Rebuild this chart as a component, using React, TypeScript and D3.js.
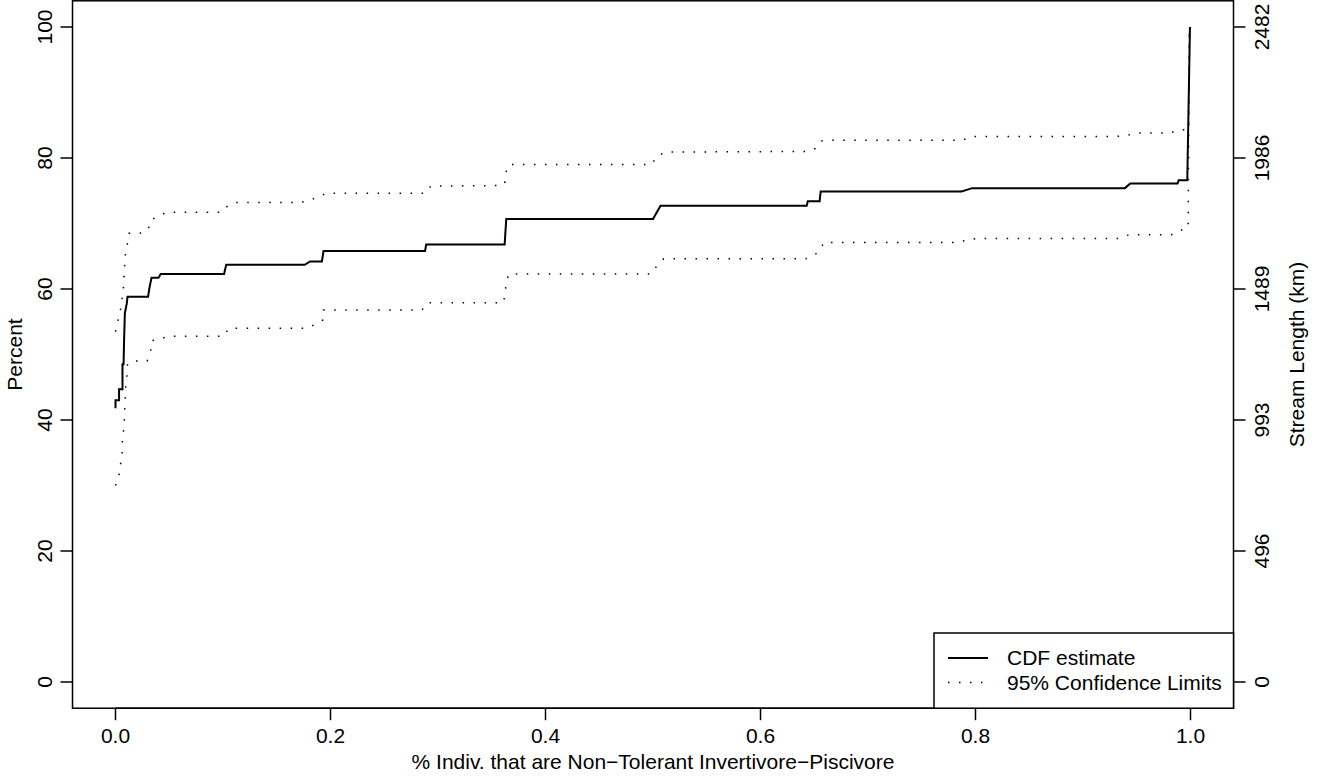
import React from "react";
import * as d3 from "d3";

// ---- data ----
const cdfX = [0, 0, 0.0033, 0.0033, 0.0065, 0.0065, 0.0075, 0.008, 0.0087, 0.0105, 0.0112, 0.0303, 0.0315, 0.0335, 0.040, 0.042, 0.101, 0.103, 0.176, 0.181, 0.192, 0.1935, 0.288, 0.289, 0.362, 0.3635, 0.500, 0.507, 0.643, 0.644, 0.655, 0.656, 0.787, 0.797, 0.939, 0.944, 0.988, 0.989, 0.997, 0.9995];
const cdfY = [41.8, 43.0, 43.0, 44.7, 44.7, 48.5, 48.5, 52.2, 56.3, 57.8, 58.8, 58.8, 60.1, 61.7, 61.7, 62.3, 62.3, 63.7, 63.7, 64.2, 64.2, 65.8, 65.8, 66.8, 66.8, 70.7, 70.7, 72.7, 72.7, 73.4, 73.4, 74.9, 74.9, 75.4, 75.4, 76.1, 76.1, 76.6, 76.6, 100];

const upperX = [0, 0.002, 0.004, 0.0056, 0.0065, 0.0077, 0.008, 0.0087, 0.0093, 0.0112, 0.0127, 0.0226, 0.0303, 0.0328, 0.0396, 0.0474, 0.0986, 0.1038, 0.111, 0.172, 0.1814, 0.1963, 0.2884, 0.2933, 0.3600, 0.3621, 0.3631, 0.3661, 0.4986, 0.5038, 0.5119, 0.6428, 0.652, 0.6567, 0.6654, 0.7875, 0.7972, 0.9296, 0.9398, 0.949, 0.9792, 0.9885, 0.9981, 0.999];
const upperY = [53.5, 55.0, 56.3, 57.6, 59.2, 60.6, 62.4, 63.9, 65.6, 67.0, 68.5, 68.5, 69.0, 70.5, 71.1, 71.7, 71.7, 72.6, 73.2, 73.2, 73.6, 74.6, 74.6, 75.7, 75.8, 76.2, 77.8, 79.0, 79.0, 80.3, 80.9, 81.0, 81.5, 82.6, 82.7, 82.7, 83.3, 83.3, 83.4, 83.8, 83.8, 84.1, 84.5, 100];

const lowerX = [0, 0.0031, 0.004, 0.0061, 0.0065, 0.008, 0.0087, 0.0093, 0.0096, 0.0108, 0.0112, 0.0195, 0.0294, 0.0326, 0.0335, 0.0419, 0.0499, 0.1007, 0.1054, 0.1767, 0.186, 0.1931, 0.1935, 0.2852, 0.2902, 0.3606, 0.3628, 0.3631, 0.3661, 0.4986, 0.5038, 0.51, 0.6421, 0.6496, 0.6554, 0.6589, 0.7814, 0.791, 0.8009, 0.9333, 0.9429, 0.9823, 0.9901, 0.9978, 0.999];
const lowerY = [30.0, 31.3, 32.9, 34.1, 37.4, 38.9, 42.2, 43.9, 45.5, 47.0, 48.6, 49.0, 49.0, 50.4, 52.1, 52.4, 52.8, 52.8, 54.0, 54.0, 54.6, 55.3, 56.8, 56.8, 57.9, 57.9, 59.3, 61.0, 62.3, 62.3, 63.6, 64.6, 64.6, 65.1, 65.9, 67.1, 67.1, 67.4, 67.7, 67.7, 68.3, 68.3, 68.9, 69.4, 100];

const xTicks = [0, 0.2, 0.4, 0.6, 0.8, 1.0];
const yTicks = [0, 20, 40, 60, 80, 100];
const rightTickLabels = ["0", "496", "993", "1489", "1986", "2482"];

const xTitle = "% Indiv. that are Non\u2212Tolerant Invertivore\u2212Piscivore";
const yTitle = "Percent";
const rightTitle = "Stream Length (km)";
const legendLabels = ["CDF estimate", "95% Confidence Limits"];

const W = 1317;
const H = 777;
const FONT = "'Liberation Sans', Arial, Helvetica, sans-serif";
const FS = 21;

export default function App() {
  const left = 72.5, right = 1233.5, top = 0.8, bottom = 708.2;
  const x = d3.scaleLinear().domain([-0.04, 1.04]).range([left, right]);
  const y = d3.scaleLinear().domain([-4, 104]).range([bottom, top]);

  const line = d3
    .line<[number, number]>()
    .x((d) => x(d[0]))
    .y((d) => y(d[1]));

  const cdfPts = cdfX.map((v, i) => [v, cdfY[i]] as [number, number]);
  const upPts = upperX.map((v, i) => [v, upperY[i]] as [number, number]);
  const loPts = lowerX.map((v, i) => [v, lowerY[i]] as [number, number]);

  const dash = "1.5 9.5";
  const tick = 12;

  // legend geometry
  const legRight = right;
  const legBottom = bottom;
  const legLeft = 934;
  const legTop = 633;
  const rowY = [658, 682.5];

  return (
    <svg
      width={W}
      height={H}
      style={{ position: "absolute", left: 0, top: 0, background: "#fff" }}
      fontFamily={FONT}
      fontSize={FS}
    >
      <rect x={0} y={0} width={W} height={H} fill="#fff" />
      {/* lines */}
      <path d={line(upPts) || ""} fill="none" stroke="#000" strokeWidth={1.5} strokeDasharray={dash} />
      <path d={line(loPts) || ""} fill="none" stroke="#000" strokeWidth={1.5} strokeDasharray={dash} />
      <path d={line(cdfPts) || ""} fill="none" stroke="#000" strokeWidth={2} />

      {/* box */}
      <rect x={left} y={top} width={right - left} height={bottom - top} fill="none" stroke="#000" strokeWidth={1.5} />

      {/* bottom axis */}
      <line x1={x(0)} x2={x(1)} y1={bottom} y2={bottom} stroke="#000" strokeWidth={1.5} />
      {xTicks.map((t) => (
        <g key={"xt" + t}>
          <line x1={x(t)} x2={x(t)} y1={bottom} y2={bottom + tick} stroke="#000" strokeWidth={1.5} />
          <text x={x(t)} y={743} textAnchor="middle">
            {t.toFixed(1)}
          </text>
        </g>
      ))}
      <text x={(left + right) / 2} y={769} textAnchor="middle">
        {xTitle}
      </text>

      {/* left axis */}
      {yTicks.map((t) => (
        <g key={"yt" + t}>
          <line x1={left - tick} x2={left} y1={y(t)} y2={y(t)} stroke="#000" strokeWidth={1.5} />
          <text transform={`translate(52,${y(t)}) rotate(-90)`} textAnchor="middle">
            {t}
          </text>
        </g>
      ))}
      <text transform={`translate(22,${(top + bottom) / 2}) rotate(-90)`} textAnchor="middle">
        {yTitle}
      </text>

      {/* right axis */}
      {yTicks.map((t, i) => (
        <g key={"rt" + t}>
          <line x1={right} x2={right + tick} y1={y(t)} y2={y(t)} stroke="#000" strokeWidth={1.5} />
          <text transform={`translate(1269,${y(t)}) rotate(-90)`} textAnchor="middle">
            {rightTickLabels[i]}
          </text>
        </g>
      ))}
      <text transform={`translate(1304,${(top + bottom) / 2}) rotate(-90)`} textAnchor="middle">
        {rightTitle}
      </text>

      {/* legend */}
      <rect x={legLeft} y={legTop} width={legRight - legLeft} height={legBottom - legTop} fill="#fff" stroke="#000" strokeWidth={1.5} />
      <line x1={948} x2={988} y1={rowY[0]} y2={rowY[0]} stroke="#000" strokeWidth={2} />
      <line x1={948} x2={988} y1={rowY[1]} y2={rowY[1]} stroke="#000" strokeWidth={1.5} strokeDasharray={dash} />
      {legendLabels.map((l, i) => (
        <text key={l} x={1007} y={rowY[i]} dy="0.35em">
          {l}
        </text>
      ))}
    </svg>
  );
}
